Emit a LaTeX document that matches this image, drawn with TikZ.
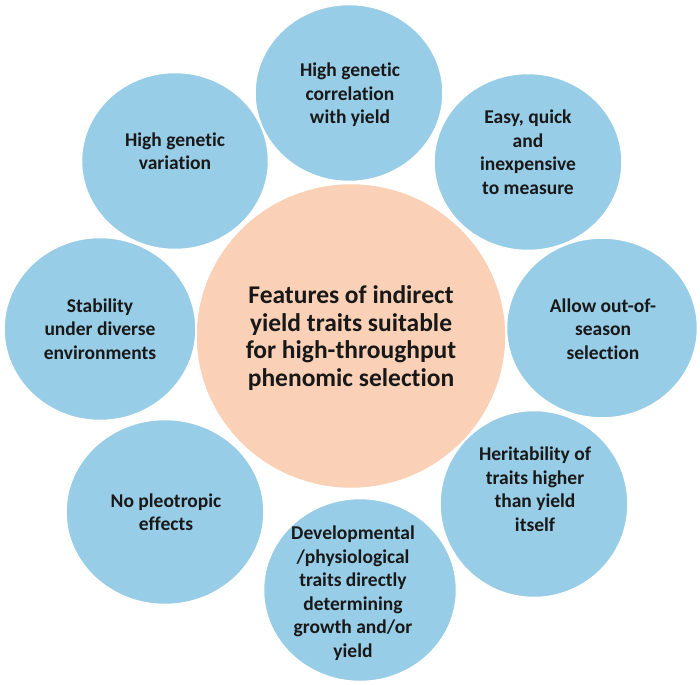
\documentclass[tikz,border=0pt]{standalone}
\usepackage{fontspec}
\setmainfont{Carlito}[Ligatures=NoCommon]
\usetikzlibrary{shapes.geometric}
\definecolor{bubblue}{RGB}{152,205,231}
\definecolor{peach}{RGB}{250,209,182}
\definecolor{ink}{RGB}{24,24,24}
\tikzset{
  bub/.style={ellipse, fill=bubblue, draw=white, line width=1.5pt, inner sep=0pt},
  core/.style={ellipse, fill=peach, draw=white, line width=1.5pt, inner sep=0pt},
  txt/.style={align=center, text=ink, font=\bfseries\fontsize{19.5}{23.5}\selectfont, inner sep=0pt},
  coretxt/.style={align=center, text=ink, font=\bfseries\fontsize{25.5}{27.4}\selectfont, inner sep=0pt}
}
\begin{document}
\begin{tikzpicture}[x=1pt, y=-1pt]
\useasboundingbox (0,0) rectangle (700,684);
% outer ellipses
\node[bub, minimum width=188pt, minimum height=177pt] (c1) at (349,93) {};
\node[bub, minimum width=188pt, minimum height=177pt] (c2) at (528,162) {};
\node[bub, minimum width=191pt, minimum height=180pt] (c3) at (602,328) {};
\node[bub, minimum width=188pt, minimum height=187pt] (c4) at (534,504) {};
\node[bub, minimum width=193pt, minimum height=183pt] (c5) at (360,590) {};
\node[bub, minimum width=198pt, minimum height=185pt] (c6) at (165,512) {};
\node[bub, minimum width=192pt, minimum height=183pt] (c7) at (100,329) {};
\node[bub, minimum width=187pt, minimum height=177pt] (c8) at (175,161) {};
% centre
\node[core, minimum width=310pt, minimum height=305pt] (core) at (351,336) {};
% texts
\node[txt] (t1) at (350,95) {High genetic\\correlation\\with yield};
\node[txt] (t2) at (528,152) {Easy, quick\\and\\inexpensive\\to measure};
\node[txt] (t3) at (603,329) {Allow out-of-\\season\\selection};
\node[txt] (t4) at (535,489) {Heritability of\\traits higher\\than yield\\itself};
\node[txt] (t5) at (353,593) {Developmental\\/physiological\\traits directly\\determining\\growth and/or\\yield};
\node[txt] (t6) at (166,512) {No pleotropic\\effects};
\node[txt] (t7) at (100,329) {Stability\\under diverse\\environments};
\node[txt] (t8) at (175,151) {High genetic\\variation};
\node[coretxt] (tc) at (351,338) {Features of indirect\\yield traits suitable\\for high-throughput\\phenomic selection};
\end{tikzpicture}
\end{document}
